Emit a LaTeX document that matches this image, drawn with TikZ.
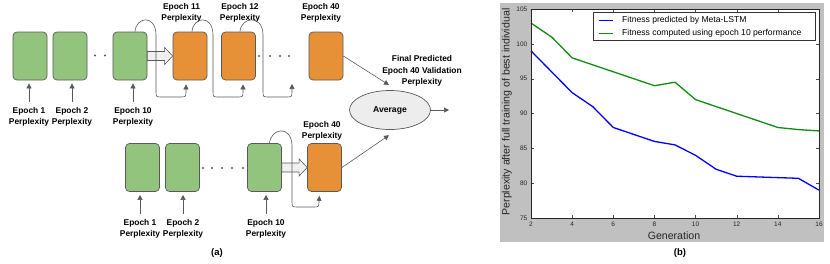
\documentclass[tikz,border=0pt]{standalone}
\usepackage{fontspec}
\setmainfont{Liberation Sans}
\usetikzlibrary{arrows.meta,calc,shapes.geometric}
\definecolor{boxgreen}{HTML}{93C47D}
\definecolor{boxorange}{HTML}{E69138}
\definecolor{edgegray}{HTML}{595959}
\definecolor{plotgray}{HTML}{C0C0C0}
\definecolor{linegreen}{HTML}{138A13}
\definecolor{lineblue}{HTML}{0000FF}
\begin{document}
\begin{tikzpicture}[x=1pt,y=-1pt,
  gbox/.style={draw=edgegray, line width=0.7pt, fill=boxgreen, rounded corners=4pt, minimum width=34pt, minimum height=48pt, inner sep=0pt},
  obox/.style={gbox, fill=boxorange},
  lbl/.style={font=\fontsize{8.4}{11.5}\selectfont\bfseries, align=center, inner sep=2pt},
  conn/.style={draw=edgegray, line width=0.6pt, -{Triangle[length=5pt,width=5pt]}},
  uparrow/.style={conn, shorten <=3pt, shorten >=3pt},
  loopc/.style={conn},
  dbl/.style={draw=edgegray, line width=0.6pt, fill=gray!12},
  dotc/.style={fill=edgegray},
  ticklbl/.style={font=\fontsize{6.5}{7}\selectfont, text=black!85, inner sep=1pt},
  axlbl/.style={font=\fontsize{10.6}{12}\selectfont, text=black!85},
  legtxt/.style={font=\fontsize{8.6}{10}\selectfont, anchor=west, inner sep=0pt},
]
\useasboundingbox (0,0) rectangle (830,263);

% ---------- panel (a) ----------
% top row
\node[gbox] (t1) at (30,56) {};
\node[gbox] (t2) at (70,56) {};
\node[gbox] (t10) at (130,56) {};
\node[obox] (t11) at (190,56) {};
\node[obox] (t12) at (238.5,56) {};
\node[obox] (t40) at (326,56) {};
% bottom row
\node[gbox] (b1) at (142.5,167.5) {};
\node[gbox] (b2) at (182.5,167.5) {};
\node[gbox] (b10) at (264.5,167.5) {};
\node[obox] (b40) at (324.5,167.5) {};

% labels
\node[lbl] (l1) at (29,117) {Epoch 1\\Perplexity};
\node[lbl] (l2) at (72,117) {Epoch 2\\Perplexity};
\node[lbl] (l10) at (133,117) {Epoch 10\\Perplexity};
\node[lbl] (l11) at (181.5,13) {Epoch 11\\Perplexity};
\node[lbl] (l12) at (240,13) {Epoch 12\\Perplexity};
\node[lbl] (l40) at (321,13) {Epoch 40\\Perplexity};
\node[lbl] (m1) at (140,229) {Epoch 1\\Perplexity};
\node[lbl] (m2) at (183,229) {Epoch 2\\Perplexity};
\node[lbl] (m10) at (266,229) {Epoch 10\\Perplexity};
\node[lbl] (m40) at (322,131) {Epoch 40\\Perplexity};
\node[lbl] (fin) at (422,71) {Final Predicted\\Epoch 40 Validation\\Perplexity};

\node[ellipse, draw=edgegray, line width=0.7pt, fill=gray!14, minimum width=81pt, minimum height=39pt, inner sep=0pt, font=\fontsize{8.6}{11}\selectfont\bfseries] (avg) at (390,110) {Average};

% dots
\foreach \x in {95,105} \fill[dotc] (\x,55.5) circle (1.1pt);
\foreach \x in {259,270,280,289} \fill[dotc] (\x,56) circle (1.1pt);
\foreach \x in {203,212,222,232,243} \fill[dotc] (\x,168) circle (1.1pt);

% up arrows from labels
\draw[uparrow] (l1.north) -- (l1.north |- t1.south);
\draw[uparrow] (l2.north) -- (l2.north |- t2.south);
\draw[uparrow] (l10.north) -- (l10.north |- t10.south);
\draw[uparrow] (m1.north) -- (m1.north |- b1.south);
\draw[uparrow] (m2.north) -- (m2.north |- b2.south);
\draw[uparrow] (m10.north) -- (m10.north |- b10.south);

% double (hollow) arrows
\draw[dbl] ($(t10.east)+(0,-4.5)$) -- ($(t11.west)+(-8,-4.5)$) -- ($(t11.west)+(-8,-8.5)$) -- (t11.west) -- ($(t11.west)+(-8,8.5)$) -- ($(t11.west)+(-8,4.5)$) -- ($(t10.east)+(0,4.5)$) -- cycle;
\draw[dbl] ($(b10.east)+(0,-4.5)$) -- ($(b40.west)+(-8,-4.5)$) -- ($(b40.west)+(-8,-8.5)$) -- (b40.west) -- ($(b40.west)+(-8,8.5)$) -- ($(b40.west)+(-8,4.5)$) -- ($(b10.east)+(0,4.5)$) -- cycle;

% loops
\draw[loopc] ($(t10.north)+(5,0)$) .. controls (136,17) and (155,14) .. (156,34) -- (156,91) .. controls (156,97) .. (162,97) -- (180,97) .. controls (186,97) .. (186,91) -- ($(t11.south)+(-4,4)$);
\draw[loopc] ($(t11.north)+(2,0)$) .. controls (193,17) and (212,14) .. (213,34) -- (213,91) .. controls (213,97) .. (219,97) -- (237,97) .. controls (243,97) .. (243,91) -- ($(t12.south)+(4.5,4)$);
\coordinate (e12) at (292,84);
\draw[loopc] ($(t12.north)+(1.5,0)$) .. controls (241,17) and (262,14) .. (263,34) -- (263,91) .. controls (263,97) .. (269,97) -- (286,97) .. controls (292,97) .. (292,91) -- (e12);
\draw[loopc] ($(b10.north)+(5,0)$) .. controls (271,128) and (291,125) .. (292,145) -- (292,201) .. controls (292,207) .. (298,207) -- (313,207) .. controls (319,207) .. (319,201) -- ($(b40.south)+(-5,4)$);

% to average
\draw[conn, shorten >=6pt] (t40.east) -- ($(avg.north)+(4,-2)$);
\draw[conn, shorten >=6pt] (b40.east) -- ($(avg.south)+(4,2)$);
\coordinate (out) at (449,110);
\draw[conn] (avg.east) -- (out);

\node[font=\fontsize{9.5}{11}\selectfont\bfseries, inner sep=0pt] (capa) at (217,253) {(a)};

% ---------- panel (b) ----------
\fill[plotgray] (500,3) rectangle (824,242);
\begin{scope}[shift={(531,218)}, x=20.571pt, y=6.963pt, shift={(-2,-75)}]
  \fill[white] (2,75) rectangle (16,105);
  \foreach \g in {2,4,...,16} {
    \draw[black!70, line width=0.4pt] (\g,75) -- ++(0,0.43);
    \draw[black!70, line width=0.4pt] (\g,105) -- ++(0,-0.43);
    \node[ticklbl, anchor=north] (xt\g) at ($(\g,75)+(0,-3pt)$) {\g};
  }
  \foreach \v in {75,80,...,105} {
    \draw[black!70, line width=0.4pt] (2,\v) -- ++(0.146,0);
    \draw[black!70, line width=0.4pt] (16,\v) -- ++(-0.146,0);
    \node[ticklbl, anchor=east] (yt\v) at ($(2,\v)+(-2.5pt,0)$) {\v};
  }
  \draw[line width=1.3pt, linegreen, line join=round] plot coordinates {(2,103) (3,101) (4,98) (5,97) (6,96) (7,95) (8,94) (9,94.5) (10,92) (11,91) (12,90) (13,89) (14,88) (15,87.7) (16,87.5)};
  \draw[line width=1.3pt, lineblue, line join=round] plot coordinates {(2,99) (3,96) (4,93) (5,91) (6,88) (7,87) (8,86) (9,85.5) (10,84) (11,82) (12,81) (13,80.9) (14,80.8) (15,80.7) (16,79)};
  \draw[black!85, line width=0.6pt] (2,75) rectangle (16,105);
\end{scope}
% legend
\draw[black!80, line width=0.5pt, fill=white] (593,12.7) rectangle (815,40.7);
\draw[lineblue, line width=1.3pt] (599,20.5) -- (613,20.5);
\draw[linegreen, line width=1.3pt] (599,33.3) -- (613,33.3);
\node[legtxt] (lg1) at (622,20.5) {Fitness predicted by Meta-LSTM};
\node[legtxt] (lg2) at (622,33.3) {Fitness computed using epoch 10 performance};
% axis labels
\node[axlbl, rotate=90] (ylab) at (507,112) {Perplexity after full training of best individual};
\node[axlbl] (xlab) at (674,236) {Generation};
\node[font=\fontsize{9.5}{11}\selectfont\bfseries, inner sep=0pt] (capb) at (680,253) {(b)};
\end{tikzpicture}
\end{document}
